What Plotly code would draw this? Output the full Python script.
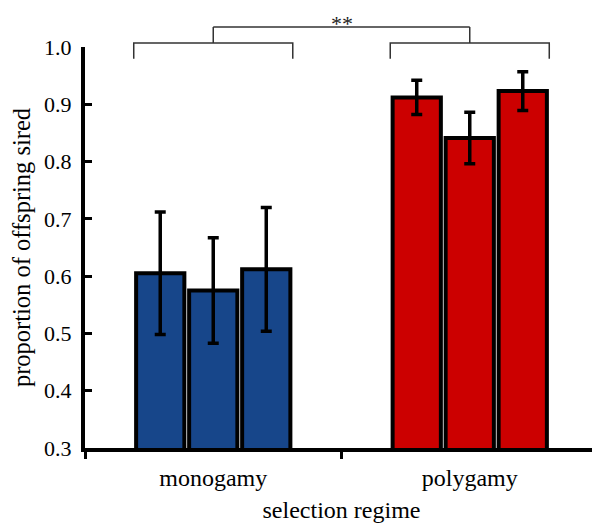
import plotly.graph_objects as go

# ---- data ----
regimes = ["monogamy", "polygamy"]
rep1_mean = [0.605, 0.912]
rep2_mean = [0.575, 0.841]
rep3_mean = [0.612, 0.923]
rep1_se = [0.107, 0.030]
rep2_se = [0.092, 0.045]
rep3_se = [0.108, 0.034]
regime_colors = ["#17468a", "#cc0000"]
y_ticks = [0.3, 0.4, 0.5, 0.6, 0.7, 0.8, 0.9, 1.0]
signif_label = "**"

FONT = "Liberation Serif, Times New Roman, serif"
BARGAP = 0.38
BARGROUPGAP = 0.09

fig = go.Figure()
for means, ses in [(rep1_mean, rep1_se), (rep2_mean, rep2_se), (rep3_mean, rep3_se)]:
    fig.add_trace(go.Bar(
        x=regimes, y=means,
        marker=dict(color=regime_colors, line=dict(color="black", width=4)),
        error_y=dict(type="data", array=ses, visible=True, color="black",
                     thickness=3.5, width=5.5),
        showlegend=False,
    ))

# significance bracket (x from group layout, y in paper units)
half = (1 - BARGAP) / 2
bracket_col = "#333333"
y_bar, y_end, y_top = 1.01, 0.971, 1.05
shapes = []
for i in range(len(regimes)):
    shapes.append(dict(type="path", xref="x", yref="paper",
                       path=f"M {i-half},{y_end} L {i-half},{y_bar} L {i+half},{y_bar} L {i+half},{y_end}",
                       line=dict(color=bracket_col, width=1.5)))
    shapes.append(dict(type="line", xref="x", yref="paper", x0=i, x1=i, y0=y_bar, y1=y_top,
                       line=dict(color=bracket_col, width=1.5)))
shapes.append(dict(type="line", xref="x", yref="paper", x0=0, x1=len(regimes) - 1,
                   y0=y_top, y1=y_top, line=dict(color=bracket_col, width=1.5)))

# the page body has an 8px margin, so the figure is drawn 8px in from the top-left corner
fig.update_layout(
    width=592, height=518,
    margin=dict(l=77, r=2, t=39, b=78),
    paper_bgcolor="white", plot_bgcolor="white",
    barmode="group", bargap=BARGAP, bargroupgap=BARGROUPGAP,
    font=dict(family=FONT, size=20, color="black"),
    shapes=shapes,
    annotations=[dict(text=signif_label, xref="paper", yref="paper", x=0.5, y=1.094,
                      yanchor="top", showarrow=False,
                      font=dict(family=FONT, size=22, color="#222222"))],
    xaxis=dict(
        title=dict(text="selection regime", font=dict(size=24), standoff=12),
        showline=True, linecolor="black", linewidth=4, automargin=False,
        ticks="outside", tickson="boundaries", ticklen=7, tickwidth=3, tickcolor="black",
        ticklabelstandoff=5,
        showgrid=False, zeroline=False, tickfont=dict(size=24),
    ),
    yaxis=dict(
        title=dict(text="proportion of offspring sired", font=dict(size=24.5), standoff=21),
        range=[0.3, 1.0], tickvals=y_ticks, tickformat=".1f",
        showline=True, linecolor="black", linewidth=4, automargin=False,
        ticks="inside", ticklen=7, tickwidth=3, tickcolor="black",
        ticklabelstandoff=5,
        showgrid=False, zeroline=False, tickfont=dict(size=22),
    ),
)

fig.write_html("out.html")
